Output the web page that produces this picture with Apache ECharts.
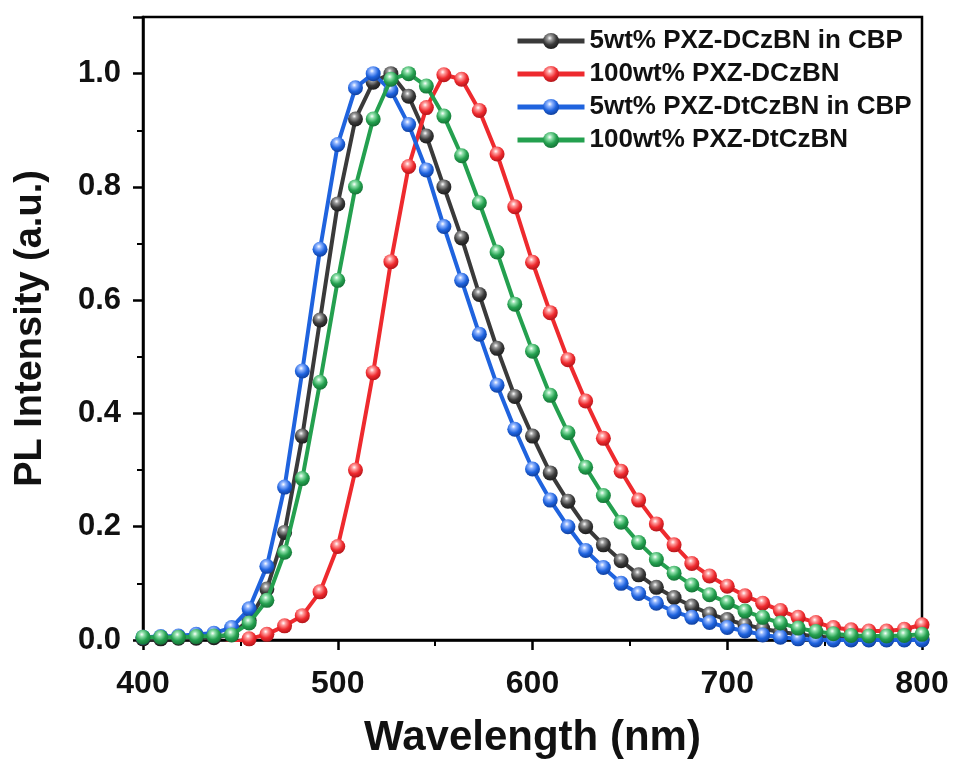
<!DOCTYPE html>
<html><head><meta charset="utf-8">
<script src="https://cdn.jsdelivr.net/npm/echarts@6/dist/echarts.min.js"></script>
<style>html,body{margin:0;padding:0;background:#fff}#c{width:957px;height:760px}</style>
</head><body><div id="c"></div>
<script>
const wavelength = [400, 409.1, 418.2, 427.3, 436.4, 445.5, 454.5, 463.6, 472.7, 481.8, 490.9, 500, 509.1, 518.2, 527.3, 536.4, 545.5, 554.5, 563.6, 572.7, 581.8, 590.9, 600, 609.1, 618.2, 627.3, 636.4, 645.5, 654.5, 663.6, 672.7, 681.8, 690.9, 700, 709.1, 718.2, 727.3, 736.4, 745.5, 754.5, 763.6, 772.7, 781.8, 790.9, 800];

const seriesNames = ['5wt% PXZ-DCzBN in CBP', '100wt% PXZ-DCzBN', '5wt% PXZ-DtCzBN in CBP', '100wt% PXZ-DtCzBN'];

const dczbnCBP = [0.002, 0.002, 0.003, 0.003, 0.004, 0.01, 0.035, 0.09, 0.19, 0.36, 0.565, 0.77, 0.92, 0.985, 1.0, 0.96, 0.89, 0.80, 0.71, 0.61, 0.515, 0.43, 0.36, 0.295, 0.245, 0.2, 0.168, 0.14, 0.115, 0.093, 0.075, 0.06, 0.046, 0.036, 0.027, 0.02, 0.014, 0.01, 0.006, 0.004, 0.002, 0.001, 0.001, 0.001, 0.001];

const dczbnNeat = [-0.01, -0.01, -0.01, -0.01, -0.01, -0.005, 0.002, 0.01, 0.025, 0.043, 0.085, 0.165, 0.30, 0.472, 0.668, 0.836, 0.94, 0.998, 0.99, 0.935, 0.858, 0.765, 0.667, 0.578, 0.495, 0.422, 0.356, 0.298, 0.247, 0.205, 0.168, 0.135, 0.113, 0.095, 0.078, 0.065, 0.052, 0.04, 0.031, 0.022, 0.018, 0.016, 0.016, 0.019, 0.027];

const dtczbnCBP = [0.005, 0.006, 0.007, 0.01, 0.012, 0.022, 0.055, 0.13, 0.27, 0.475, 0.69, 0.875, 0.975, 1.0, 0.97, 0.91, 0.83, 0.73, 0.635, 0.54, 0.45, 0.372, 0.302, 0.247, 0.2, 0.158, 0.128, 0.1, 0.082, 0.065, 0.05, 0.04, 0.031, 0.022, 0.016, 0.009, 0.005, 0.002, 0.0, 0.0, 0.0, 0.0, 0.0, 0.0, 0.0];

const dtczbnNeat = [0.005, 0.005, 0.005, 0.006, 0.007, 0.009, 0.03, 0.07, 0.155, 0.285, 0.455, 0.635, 0.80, 0.92, 0.99, 1.0, 0.978, 0.925, 0.855, 0.772, 0.685, 0.593, 0.51, 0.432, 0.366, 0.305, 0.255, 0.208, 0.172, 0.142, 0.118, 0.097, 0.08, 0.066, 0.051, 0.04, 0.03, 0.021, 0.015, 0.011, 0.008, 0.007, 0.007, 0.008, 0.01];

const xTickLabels = ['400', '500', '600', '700', '800'];
const yTickLabels = ['0.0', '0.2', '0.4', '0.6', '0.8', '1.0'];

const colors = [
  {c: '#3a3a3a', dark: '#1a1a1a', light: '#9a9a9a'},
  {c: '#ee2a2e', dark: '#b01318', light: '#ff9a9a'},
  {c: '#1f63de', dark: '#0e3d9a', light: '#8fb4ff'},
  {c: '#24a04f', dark: '#137034', light: '#8fe0aa'}
];
const allData = [dczbnCBP, dczbnNeat, dtczbnCBP, dtczbnNeat];

const chart = echarts.init(document.getElementById('c'));
const font = 'Liberation Sans, Arial, sans-serif';

function ball(col) {
  return new echarts.graphic.RadialGradient(0.42, 0.32, 0.7, [
    {offset: 0, color: '#ffffff'},
    {offset: 0.22, color: col.light},
    {offset: 0.6, color: col.c},
    {offset: 1, color: col.dark}
  ]);
}

const series = seriesNames.map((name, i) => ({
  name: name,
  type: 'line',
  data: wavelength.map((w, j) => [w, allData[i][j]]),
  symbol: 'circle',
  symbolSize: 15,
  showAllSymbol: true,
  lineStyle: {color: colors[i].c, width: 4},
  itemStyle: {color: ball(colors[i]), borderWidth: 0},
  z: 2 + i
}));

chart.setOption({
  animation: false,
  backgroundColor: '#fff',
  color: colors.map(c => c.c),
  grid: {left: 143, right: 35, top: 17, bottom: 120, outerBoundsMode: 'none', containLabel: false,
    show: true, borderColor: '#000', borderWidth: 2.5, backgroundColor: 'transparent'},
  legend: {
    orient: 'vertical', left: 515, top: 28, padding: 0, itemGap: 7, itemWidth: 67, itemHeight: 20,
    lineStyle: {width: 5},
    textStyle: {fontFamily: font, fontWeight: 'bold', fontSize: 26, color: '#111'},
    data: seriesNames
  },
  xAxis: {
    type: 'value', min: 400, max: 800, interval: 100,
    name: 'Wavelength (nm)', nameLocation: 'middle', nameGap: 77,
    nameTextStyle: {fontFamily: font, fontWeight: 'bold', fontSize: 42, color: '#111'},
    axisLine: {show: true, lineStyle: {color: '#000', width: 2.5}},
    axisTick: {show: true, inside: false, length: 10, lineStyle: {color: '#000', width: 2.5}},
    minorTick: {show: true, splitNumber: 2, length: 6, lineStyle: {color: '#000', width: 2}},
    splitLine: {show: false},
    axisLabel: {fontFamily: font, fontWeight: 'bold', fontSize: 32, color: '#111', margin: 28,
      formatter: v => xTickLabels.indexOf(String(v)) >= 0 ? String(v) : ''}
  },
  yAxis: {
    type: 'value', min: 0, max: 1.1, interval: 0.2,
    name: 'PL Intensity (a.u.)', nameLocation: 'middle', nameGap: 93,
    nameTextStyle: {fontFamily: font, fontWeight: 'bold', fontSize: 38, color: '#111'},
    axisLine: {show: true, lineStyle: {color: '#000', width: 2.5}},
    axisTick: {show: true, inside: false, length: 10, lineStyle: {color: '#000', width: 2.5}},
    minorTick: {show: true, splitNumber: 2, length: 6, lineStyle: {color: '#000', width: 2}},
    splitLine: {show: false},
    axisLabel: {fontFamily: font, fontWeight: 'bold', fontSize: 31, color: '#111', margin: 22, showMaxLabel: false,
      formatter: v => { const s = v.toFixed(1); return yTickLabels.indexOf(s) >= 0 ? s : ''; }}
  },
  series: series
});
</script>
</body></html>
